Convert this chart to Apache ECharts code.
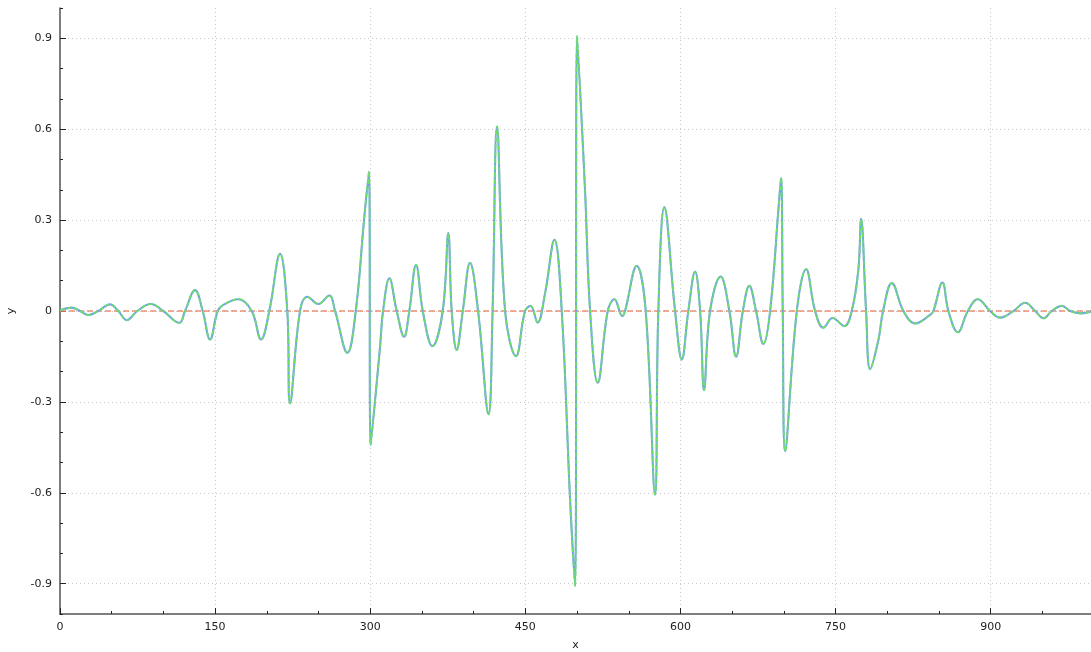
<!DOCTYPE html>
<html>
<head>
<meta charset="utf-8">
<title>y vs x</title>
<script src="https://cdn.jsdelivr.net/npm/echarts@6/dist/echarts.min.js"></script>
<style>
  html, body { margin: 0; padding: 0; background: #fff; }
  #chart { width: 1091px; height: 652px; }
</style>
</head>
<body>
<div id="chart"></div>
<script>
// sample positions (x) and signal values (y)
const xs = [0, 11.3, 19.3, 27.4, 37.0, 48.4, 56.4, 64.5, 74.8, 87.7, 99.9, 115.4, 120.9, 130.6, 138.0,
  145.1, 152.5, 157.9, 172.4, 185.4, 194.4, 202.4, 212.8, 219.8, 222.4, 232.1, 239.2, 249.8, 260.4,
  266.0, 277.9, 286.0, 294.0, 298.8, 300.3, 309.5, 312.4, 318.5, 325.6, 332.7, 337.8, 344.3, 350.8,
  360.1, 370.1, 375.5, 378.8, 383.6, 389.5, 396.5, 404.3, 414.4, 418.3, 422.6, 430.4, 441.0, 449.7,
  455.0, 461.8, 469.1, 478.1, 485.2, 493.3, 498.1, 500.0, 507.7, 512.6, 520.0, 529.7, 536.1, 543.8,
  546.4, 557.7, 566.4, 575.4, 578.6, 584.4, 594.8, 601.3, 607.6, 614.1, 619.0, 622.8, 628.6, 638.8,
  647.3, 653.8, 660.3, 666.6, 673.1, 680.2, 686.7, 694.7, 697.3, 698.9, 701.2, 712.5, 721.5, 730.2,
  738.2, 747.1, 758.5, 765.6, 772.0, 774.7, 779.5, 783.4, 791.4, 795.9, 804.4, 815.6, 826.9, 841.4,
  844.6, 853.3, 859.1, 868.2, 877.9, 887.5, 899.4, 909.1, 922.0, 933.3, 943.0, 951.0, 959.1, 968.8,
  976.8, 987.4, 997.1]
const ys = [0.002, 0.011, 0, -0.013, 0, 0.022, 0, -0.030, 0, 0.023, 0, -0.039, 0, 0.069, 0,
  -0.094, 0, 0.020, 0.039, 0, -0.094, 0, 0.189, 0, -0.305, 0, 0.047, 0.023, 0.051,
  0, -0.138, 0, 0.30, 0.461, -0.443, -0.118, 0, 0.108, 0, -0.085, 0, 0.152, 0,
  -0.116, 0, 0.257, 0, -0.129, 0, 0.159, 0, -0.341, 0, 0.609, 0, -0.149, 0,
  0.017, -0.038, 0.059, 0.235, 0, -0.625, -0.907, 0.907, 0.400, 0, -0.237, 0, 0.039, -0.017,
  0, 0.149, 0, -0.606, 0, 0.343, 0, -0.160, 0, 0.130, 0, -0.261, 0, 0.114,
  0, -0.151, 0, 0.083, 0, -0.109, 0, 0.334, 0.440, 0, -0.463, 0, 0.138, 0,
  -0.055, -0.023, -0.050, 0, 0.136, 0.304, 0, -0.192, -0.096, 0, 0.092, 0, -0.041, -0.013,
  0, 0.094, 0, -0.070, 0, 0.039, 0, -0.022, 0, 0.027, 0, -0.024, 0, 0.017,
  0, -0.008, -0.002]

const xTicks = [0, 150, 300, 450, 600, 750, 900]
const yTicks = [-0.9, -0.6, -0.3, 0, 0.3, 0.6, 0.9]
const xRange = [0, 997]
const yRange = [-1, 1]

const signal = xs.map((x, i) => [x, ys[i]])
const baseline = xRange.map(x => [x, 0])

const labelFont = { fontFamily: 'DejaVu Sans', fontSize: 11, color: '#222' }
const axisColor = '#555'

const chart = echarts.init(document.getElementById('chart'))

chart.setOption({
  animation: false,
  grid: { left: 60, right: 0, top: 8, bottom: 38, containLabel: false, outerBoundsMode: 'none' },
  xAxis: [
    {
      type: 'value',
      min: xRange[0],
      max: xRange[1],
      name: 'x',
      nameLocation: 'middle',
      nameGap: 26,
      nameTextStyle: labelFont,
      axisLine: { onZero: false, lineStyle: { color: axisColor, width: 1.5 } },
      axisTick: { inside: true, length: 6, customValues: xTicks, lineStyle: { color: '#222' } },
      axisLabel: Object.assign({ customValues: xTicks, margin: 8 }, labelFont),
      splitLine: { show: true, lineStyle: { color: '#c8c8c8', type: [1, 3] } }
    },
    {
      // minor ticks only
      type: 'value',
      position: 'bottom',
      min: xRange[0],
      max: xRange[1],
      interval: 50,
      axisLine: { show: false, onZero: false },
      axisTick: { inside: true, length: 3, lineStyle: { color: '#222' } },
      axisLabel: { show: false },
      splitLine: { show: false }
    }
  ],
  yAxis: [
    {
      type: 'value',
      min: yRange[0],
      max: yRange[1],
      name: 'y',
      nameLocation: 'middle',
      nameGap: 43,
      nameTextStyle: labelFont,
      axisLine: { show: true, onZero: false, lineStyle: { color: axisColor, width: 1.5 } },
      axisTick: { show: true, inside: true, length: 6, customValues: yTicks, lineStyle: { color: '#222' } },
      axisLabel: Object.assign({
        customValues: yTicks,
        margin: 8,
        formatter: v => (Math.abs(v) < 1e-9 ? '0' : v.toFixed(1))
      }, labelFont),
      splitLine: { show: true, lineStyle: { color: '#c8c8c8', type: [1, 3] } }
    },
    {
      type: 'value',
      position: 'left',
      min: yRange[0],
      max: yRange[1],
      interval: 0.1,
      axisLine: { show: false, onZero: false },
      axisTick: { show: true, inside: true, length: 3, lineStyle: { color: '#222' } },
      axisLabel: { show: false },
      splitLine: { show: false }
    }
  ],
  series: [
    {
      name: 'zero',
      type: 'line',
      data: baseline,
      showSymbol: false,
      silent: true,
      z: 1,
      lineStyle: { color: '#ef8f72', width: 1.5, type: [6, 3] }
    },
    {
      name: 'signal',
      type: 'line',
      data: signal,
      showSymbol: false,
      smooth: 0.4,
      z: 2,
      lineStyle: { color: '#7b9df0', width: 2.1 }
    },
    {
      name: 'signal (dashed)',
      type: 'line',
      data: signal,
      showSymbol: false,
      smooth: 0.4,
      z: 3,
      lineStyle: { color: '#69de6e', width: 1.8, type: [5, 2] }
    }
  ]
})
</script>
</body>
</html>
